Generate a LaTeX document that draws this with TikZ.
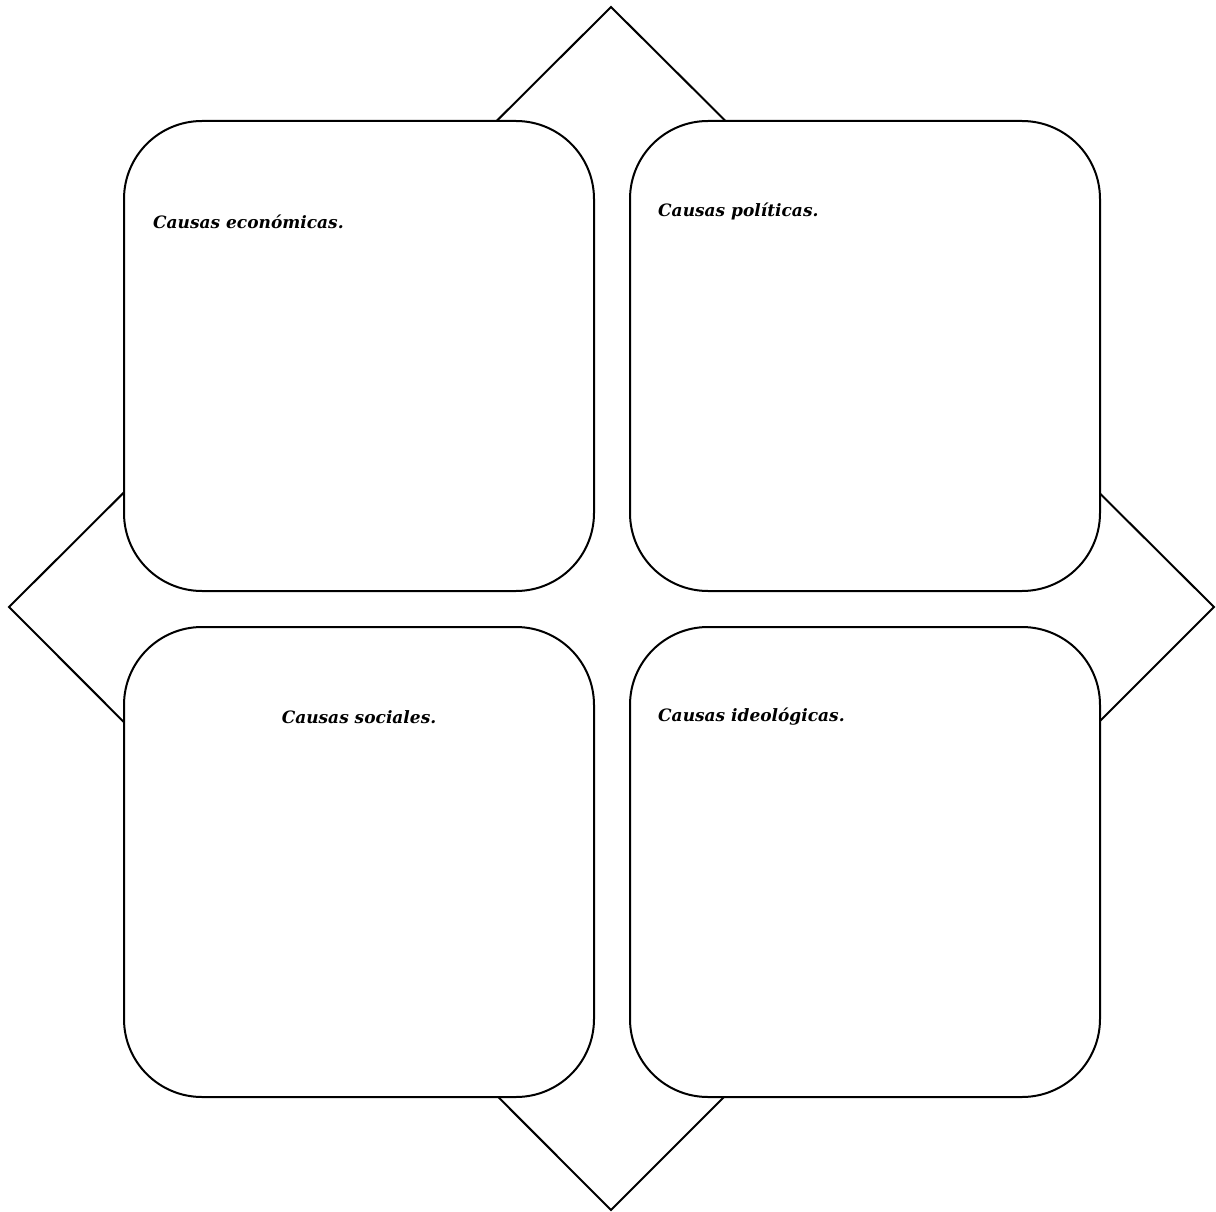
\documentclass[tikz,border=0pt]{standalone}
\usepackage{fontspec}
\setmainfont{DejaVu Serif}
\usepackage{tikz}
\usetikzlibrary{positioning}

\tikzset{
  causebox/.style={draw, line width=2pt, fill=white, rounded corners=78pt,
    minimum width=470pt, minimum height=470pt, inner sep=0pt},
  causetext/.style={font=\fontsize{17}{20}\selectfont\bfseries\itshape, inner sep=0pt}
}

\begin{document}
\begin{tikzpicture}[x=1pt,y=-1pt]
\useasboundingbox (0,0) rectangle (1216,1212);

% Background diamond
\draw[line width=2pt, line join=miter] (611,7) -- (1214,607) -- (611,1210) -- (9,607) -- cycle;

% Boxes
\node[causebox] (eco) at (359,356) {};
\node[causebox] (pol) at (865,356) {};
\node[causebox] (soc) at (359,862) {};
\node[causebox] (ideo) at (865,862) {};

% Labels
\node[causetext, anchor=west] (ecot) at (153,222) {Causas económicas.};
\node[causetext, anchor=west] (polt) at (658,211) {Causas políticas.};
\node[causetext] (soct) at (359,717) {Causas sociales.};
\node[causetext, anchor=west] (ideot) at (658,717) {Causas ideológicas.};
\end{tikzpicture}
\end{document}
